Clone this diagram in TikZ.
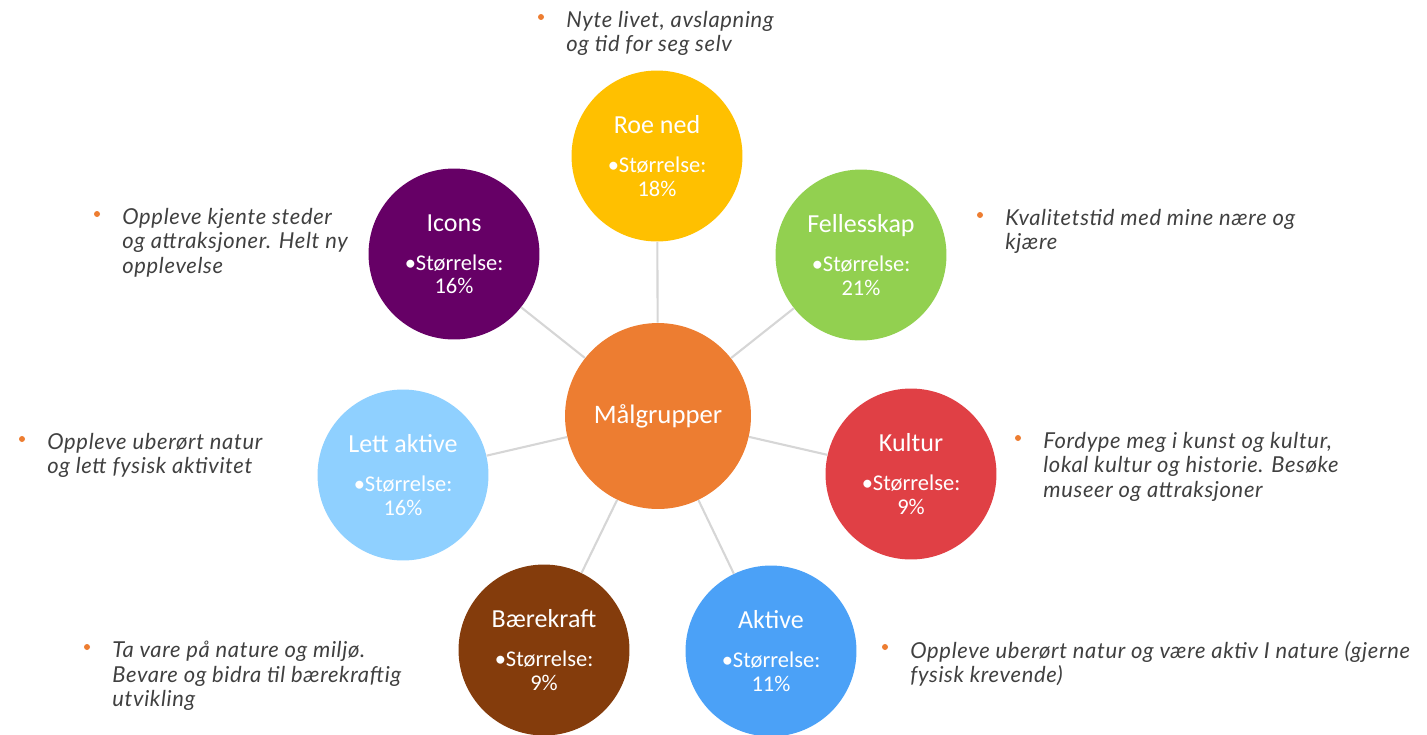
\documentclass[tikz,border=0pt]{standalone}
\usepackage{fontspec}
\setmainfont{Carlito}
\newfontfamily\descfont{Lato}[LetterSpace=3]
\usepackage{tikz}
\usetikzlibrary{positioning}

\definecolor{orangeC}{HTML}{ED7D31}
\definecolor{yellowC}{HTML}{FFC000}
\definecolor{purpleC}{HTML}{660066}
\definecolor{greenC}{HTML}{92D050}
\definecolor{skyC}{HTML}{8FD0FF}
\definecolor{redC}{HTML}{E04045}
\definecolor{brownC}{HTML}{843C0C}
\definecolor{blueC}{HTML}{4BA1F7}
\definecolor{lineC}{HTML}{D6D6D6}
\definecolor{textC}{HTML}{404040}

\newcommand{\grp}[2]{{\fontsize{14.8}{17}\selectfont #1}\\[9pt]•Størrelse:\\#2}

\begin{document}
\begin{tikzpicture}[
    x=0.02cm, y=-0.02cm,
    group/.style={circle, fill=#1, text=white, inner sep=0pt, minimum size=3.42cm, align=center, font=\fontsize{12.8}{13.2}\selectfont},
    center/.style={circle, fill=orangeC, text=white, inner sep=0pt, minimum size=3.72cm, font=\fontsize{15.2}{18}\selectfont},
    desc/.style={anchor=north west, inner sep=0pt, align=left, text=textC, font=\descfont\itshape\fontsize{12.5}{13.9}\selectfont},
    dot/.style={circle, fill=orangeC, inner sep=0pt, minimum size=0.12cm},
    link/.style={draw=lineC, line width=1.2pt}
]
\useasboundingbox (0,0) rectangle (1427,734);

% circles
\node[center] (mal) at (658,416) {Målgrupper};
\node[group=yellowC] (roe) at (657,156) {\grp{Roe ned}{18\%}};
\node[group=purpleC] (icons) at (454,254) {\grp{Icons}{16\%}};
\node[group=greenC] (felles) at (861,255) {\grp{Fellesskap}{21\%}};
\node[group=skyC] (lett) at (403,475) {\grp{Lett aktive}{16\%}};
\node[group=redC] (kultur) at (911,474) {\grp{Kultur}{9\%}};
\node[group=brownC] (baere) at (544,650) {\grp{Bærekraft}{9\%}};
\node[group=blueC] (aktive) at (771,651) {\grp{Aktive}{11\%}};

% connectors
\foreach \n in {roe, icons, felles, lett, kultur, baere, aktive}
    \draw[link] (mal) -- (\n);

% descriptions
\node[desc] (roeTxt) at (566,11) {Nyte livet, avslapning\\og tid for seg selv};
\node[desc] (iconsTxt) at (122,208) {Oppleve kjente steder\\og attraksjoner. Helt ny\\opplevelse};
\node[desc] (fellesTxt) at (1005,209) {Kvalitetstid med mine nære og\\kjære};
\node[desc] (lettTxt) at (47,433) {Oppleve uberørt natur\\og lett fysisk aktivitet};
\node[desc] (kulturTxt) at (1043,432) {Fordype meg i kunst og kultur,\\lokal kultur og historie. Besøke\\museer og attraksjoner};
\node[desc] (baereTxt) at (112,641) {Ta vare på nature og miljø.\\Bevare og bidra til bærekraftig\\utvikling};
\node[desc] (aktiveTxt) at (910,641) {Oppleve uberørt natur og være aktiv I nature (gjerne\\fysisk krevende)};

% bullets
\foreach \t in {roeTxt, iconsTxt, fellesTxt, lettTxt, kulturTxt, baereTxt, aktiveTxt}
    \node[dot] (\t Dot) at ([xshift=-0.5cm, yshift=-0.12cm]\t.north west) {};

\end{tikzpicture}
\end{document}
